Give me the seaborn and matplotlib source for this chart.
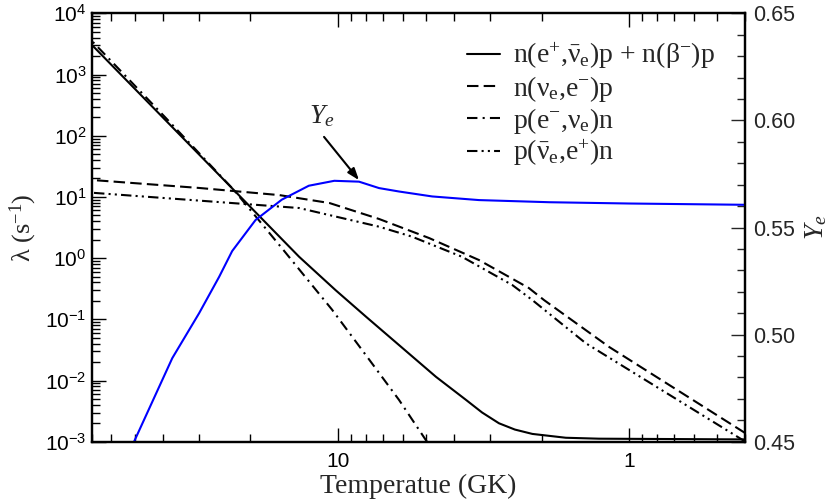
import matplotlib
matplotlib.use("Agg")
import matplotlib.pyplot as plt
import matplotlib.ticker as mticker
import numpy as np
import seaborn as sns

# --- values ---
# temperature in GK, rates in s^-1
T_solid = [70, 13.6, 10.2, 8.01, 4.61, 3.63, 3.20, 2.80, 2.47, 2.15, 1.65, 1.27, 0.4]
rate_solid = [3030, 1.05, 0.30, 0.110, 0.0115, 0.0048, 0.0030, 0.0020, 0.00158, 0.00134,
              0.00116, 0.00112, 0.00109]

T_nue = [70, 30.0, 15.9, 10.7, 7.23, 4.87, 3.28, 2.21, 1.96, 1.17, 0.4]
rate_nue = [18.9, 14.0, 10.7, 7.94, 4.36, 2.13, 0.93, 0.324, 0.206, 0.0352, 0.00139]

T_ecap = [70, 39.0, 22.8, 15.6, 13.2, 10.5, 8.01, 6.17, 4.95]
rate_ecap = [3520, 194, 13.0, 1.46, 0.55, 0.145, 0.0257, 0.0048, 0.001]

T_anue = [70, 30.0, 13.6, 7.23, 5.57, 3.75, 2.52, 2.15, 1.41, 0.4]
rate_anue = [11.7, 8.7, 6.58, 3.26, 2.24, 1.05, 0.363, 0.206, 0.0407, 0.00101]

# electron fraction (right axis)
T_ye = [50.2, 37.1, 30.0, 25.6, 23.1, 19.2, 15.6, 12.6, 10.3, 8.47, 7.23, 6.17, 4.75, 3.28, 1.88, 1.0, 0.4]
ye = [0.45, 0.489, 0.510, 0.527, 0.539, 0.5535, 0.563, 0.5695, 0.5718, 0.5714, 0.5684,
      0.5668, 0.5645, 0.5628, 0.5618, 0.5612, 0.5606]

labels = [
    r"n($\mathregular{e^{+}}$,$\mathregular{\bar{\nu}_{e}}$)p + n($\mathregular{\beta^{-}}$)p",
    r"n($\mathregular{\nu_{e}}$,$\mathregular{e^{-}}$)p",
    r"p($\mathregular{e^{-}}$,$\mathregular{\nu_{e}}$)n",
    r"p($\mathregular{\bar{\nu}_{e}}$,$\mathregular{e^{+}}$)n",
]

sns.set_style("ticks")
plt.rcParams["font.family"] = ["Liberation Serif", "DejaVu Serif"]

fig = plt.figure(figsize=(8.3, 5.01), dpi=100)
ax = fig.add_axes([92 / 830, 1 - 441.7 / 501, (745 - 92) / 830, (441.7 - 13.3) / 501])
ax.set_xscale("log")
ax.set_yscale("log")

lw = 1.5
sns.lineplot(x=T_solid, y=rate_solid, ax=ax, color="black", lw=lw, linestyle="-", label=labels[0])
sns.lineplot(x=T_nue, y=rate_nue, ax=ax, color="black", lw=lw, linestyle=(0, (5.5, 2.5)), label=labels[1])
sns.lineplot(x=T_ecap, y=rate_ecap, ax=ax, color="black", lw=lw, linestyle=(0, (5, 2.5, 1, 2.5)), label=labels[2])
sns.lineplot(x=T_anue, y=rate_anue, ax=ax, color="black", lw=lw, linestyle=(0, (5, 2, 1, 2, 1, 2)), label=labels[3])

ax.set_xlim(70, 0.4)
ax.set_ylim(1e-3, 1e4)

ax2 = ax.twinx()
sns.lineplot(x=T_ye, y=ye, ax=ax2, color="blue", lw=lw, legend=False)
ax2.set_ylim(0.45, 0.65)

# ticks
ax.xaxis.set_major_locator(mticker.LogLocator(base=10, numticks=10))
ax.xaxis.set_minor_locator(mticker.LogLocator(base=10, subs=np.arange(2, 10), numticks=50))
ax.xaxis.set_major_formatter(mticker.FuncFormatter(lambda v, p: f"{v:g}"))
ax.xaxis.set_minor_formatter(mticker.NullFormatter())
ax.yaxis.set_major_locator(mticker.LogLocator(base=10, numticks=20))
ax.yaxis.set_minor_locator(mticker.LogLocator(base=10, subs=np.arange(2, 10), numticks=100))
ax.yaxis.set_major_formatter(mticker.FuncFormatter(
    lambda v, p: r"$\mathregular{10^{%d}}$" % round(np.log10(v))))
ax.yaxis.set_minor_formatter(mticker.NullFormatter())

ax2.yaxis.set_major_locator(mticker.MultipleLocator(0.05))
ax2.yaxis.set_minor_locator(mticker.MultipleLocator(0.01))
ax2.yaxis.set_major_formatter(mticker.FormatStrFormatter("%.2f"))

ax.tick_params(axis="both", which="both", direction="in", top=True, right=False,
               width=1, labelsize=15, labelfontfamily="Liberation Sans", colors="black")
ax.tick_params(which="major", length=10)
ax.tick_params(which="minor", length=5.5)
ax.tick_params(axis="x", pad=7.5)
ax.tick_params(axis="y", pad=4)
ax2.tick_params(axis="y", which="both", direction="in", width=1, labelsize=15.5,
                labelfontfamily="Liberation Sans", pad=5.5)
ax2.tick_params(which="major", length=10)
ax2.tick_params(which="minor", length=5.5)

for a in (ax, ax2):
    for s in a.spines.values():
        s.set_linewidth(1.6)
        s.set_color("black")

ax.set_xlabel("Temperatue (GK)", fontsize=20, labelpad=2)
ax.set_ylabel(r"λ (s$\mathregular{^{-1}}$)", fontsize=19, labelpad=4)
ax2.set_ylabel(r"$\mathregular{Y_{e}}$", fontsize=20, fontstyle="italic", labelpad=6)

# arrow pointing at the Ye curve
ax2.annotate("", xy=(8.47, 0.5721), xytext=(11.17, 0.5923),
             arrowprops=dict(arrowstyle="-|>,head_length=0.7,head_width=0.25",
                             color="black", lw=1.5, shrinkA=0, shrinkB=0))
ax2.text(11.4, 0.5988, r"$\mathregular{Y_{e}}$", fontsize=20, fontstyle="italic",
         ha="center", va="baseline")

ax.legend(loc="upper left", bbox_to_anchor=(467 / 830, 1 - 41 / 501), bbox_transform=fig.transFigure,
          frameon=False, fontsize=20, handlelength=1.2, handletextpad=0.45,
          borderpad=0, borderaxespad=0, labelspacing=0.08)

fig.savefig("out.png", dpi=100)
